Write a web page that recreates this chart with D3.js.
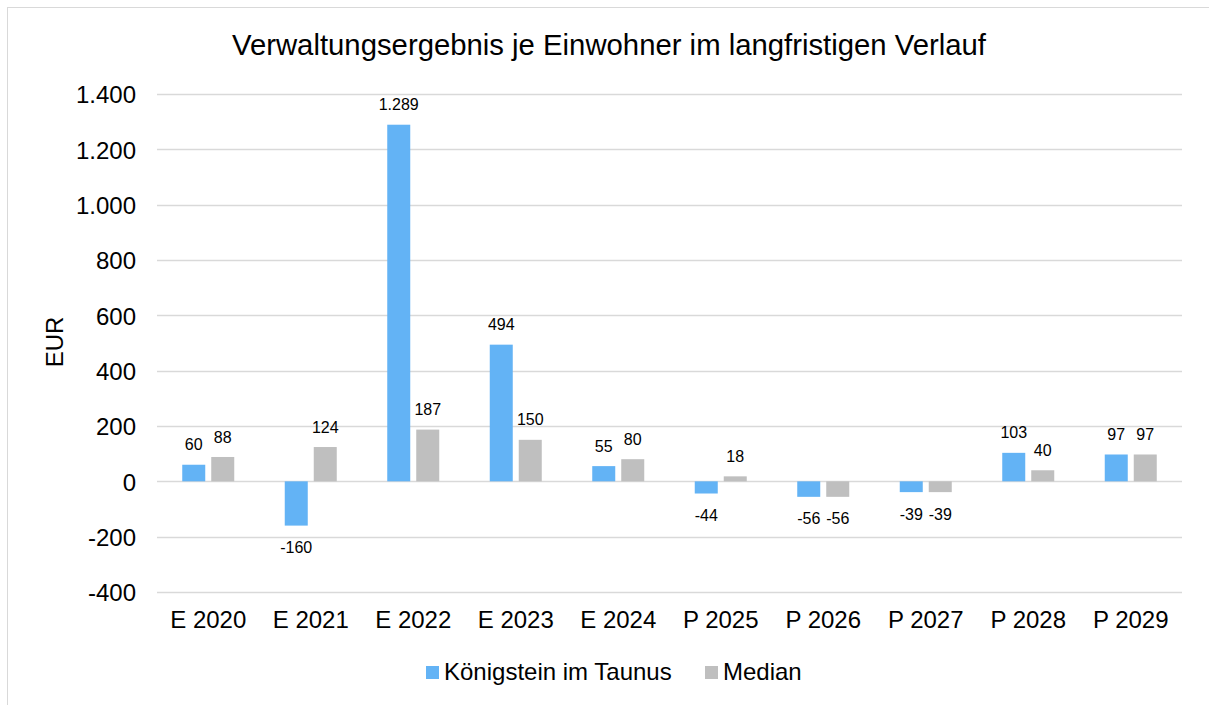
<!DOCTYPE html>
<html><head><meta charset="utf-8">
<script src="https://cdn.jsdelivr.net/npm/d3@7"></script>
<style>body{margin:0;background:#fff;} svg{display:block;font-family:"Liberation Sans",Arial,sans-serif;}</style>
</head><body>
<svg id="c" width="1209" height="705"></svg>
<script>
const categories = ["E 2020","E 2021","E 2022","E 2023","E 2024","P 2025","P 2026","P 2027","P 2028","P 2029"];
const koenigstein = [60,-160,1289,494,55,-44,-56,-39,103,97];
const median = [88,124,187,150,80,18,-56,-39,40,97];
const seriesNames = ["Königstein im Taunus","Median"];
const yTicks = [-400,-200,0,200,400,600,800,1000,1200,1400];
const colors = ["#63B3F5","#BFBFBF"];

const svg = d3.select("#c");
const fmt = d3.formatLocale({decimal:",",thousands:".",grouping:[3],currency:["","€"],minus:"-"}).format(",d");

svg.append("rect").attr("x",7.5).attr("y",7.5).attr("width",1215).attr("height",710)
  .attr("fill","#fff").attr("stroke","#D9D9D9").attr("stroke-width",1);

const x0 = d3.scaleBand().domain(categories).range([157,1182]);
const y = d3.scaleLinear().domain([-400,1400]).range([592,94]);

const g = svg.append("g");
g.selectAll("line.grid").data(yTicks).enter().append("line")
  .attr("x1",157).attr("x2",1182).attr("y1",d=>Math.round(y(d))+0.5).attr("y2",d=>Math.round(y(d))+0.5)
  .attr("stroke","#D9D9D9").attr("stroke-width",1.5);

g.selectAll("text.yt").data(yTicks).enter().append("text")
  .attr("x",136).attr("y",d=>y(d)+1).attr("dy","0.35em").attr("text-anchor","end")
  .attr("font-size",24).attr("fill","#000").text(d=>fmt(d));

const bw = 23, gap = 6;
const data = [koenigstein, median];
data.forEach((arr,si)=>{
  const off = si===0 ? -(gap/2+bw) : gap/2;
  g.selectAll("rect.s"+si).data(arr).enter().append("rect")
    .attr("x",(d,i)=>x0(categories[i])+x0.bandwidth()/2+off)
    .attr("y",d=>y(Math.max(0,d)))
    .attr("width",bw)
    .attr("height",d=>Math.abs(y(d)-y(0)))
    .attr("fill",colors[si]);
  g.selectAll("text.l"+si).data(arr).enter().append("text")
    .attr("x",(d,i)=>x0(categories[i])+x0.bandwidth()/2+off+bw/2)
    .attr("y",d=> d>=0 ? y(d)-20 : y(d)+22)
    .attr("dy","0.35em").attr("text-anchor","middle")
    .attr("font-size",16).attr("fill","#000").text(d=>fmt(d));
});

g.selectAll("text.xt").data(categories).enter().append("text")
  .attr("x",d=>x0(d)+x0.bandwidth()/2).attr("y",620).attr("dy","0.35em")
  .attr("text-anchor","middle").attr("font-size",24).attr("fill","#000").text(d=>d);

svg.append("text").attr("x",609).attr("y",45).attr("dy","0.35em").attr("text-anchor","middle")
  .attr("font-size",29.3).attr("fill","#000").text("Verwaltungsergebnis je Einwohner im langfristigen Verlauf");

svg.append("text").attr("transform","translate(54.5,342) rotate(-90)").attr("dy","0.35em")
  .attr("text-anchor","middle").attr("font-size",24).attr("fill","#000").text("EUR");

const legX = [426,705];
seriesNames.forEach((n,i)=>{
  svg.append("rect").attr("x",legX[i]).attr("y",666).attr("width",13).attr("height",13).attr("fill",colors[i]);
  svg.append("text").attr("x",legX[i]+18).attr("y",671.5).attr("dy","0.35em").attr("font-size",24).attr("fill","#000").text(n);
});
</script>
</body></html>
